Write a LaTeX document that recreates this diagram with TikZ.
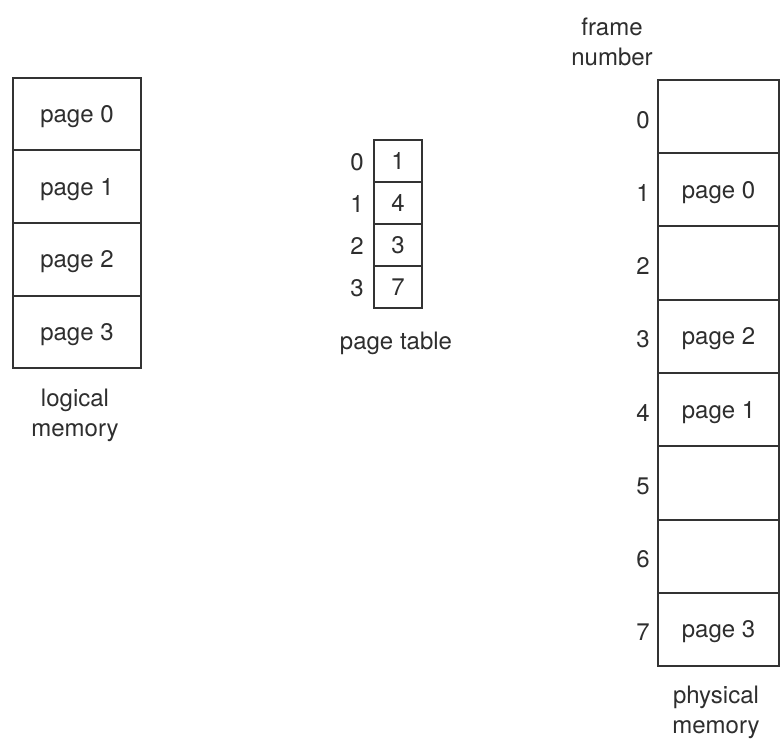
\documentclass[tikz,border=0pt]{standalone}
\usepackage{fontspec}
\setmainfont{TeX Gyre Heros}
\begin{document}
\begin{tikzpicture}[x=1pt,y=-1pt,
  every node/.style={font=\fontsize{24}{30}\selectfont, text=black!82},
  cell/.style={draw=black!80, line width=2pt, inner sep=0pt, anchor=center,
    text height=17pt, text depth=0pt},
  lcell/.style={cell, minimum width=128pt, minimum height=72.5pt},
  tcell/.style={cell, minimum width=48pt, minimum height=42pt},
  pcell/.style={cell, minimum width=121pt, minimum height=73.25pt},
  idx/.style={inner sep=0pt, anchor=center, text height=17pt, text depth=0pt},
  caption/.style={align=center, inner sep=0pt, anchor=center}]
  % canvas
  \path[use as bounding box, fill=white] (0,0) rectangle (781,743);

  % logical memory
  \foreach \i in {0,...,3}
    \node[lcell] (lp\i) at (77,{78+72.5*(\i+0.5)}) {page \i};
  \node[caption] (lcap) at (75,415) {logical\\memory};

  % page table
  \foreach \i/\f in {0/1,1/4,2/3,3/7} {
    \node[tcell] (pt\i) at (398,{140+42*(\i+0.5)}) {\f};
    \node[idx] (pi\i) at (357,{141+42*(\i+0.5)}) {\i};
  }
  \node[caption] (tcap) at (396,343) {page table};

  % physical memory with frame numbers
  \foreach \i/\t in {0/,1/page 0,2/,3/page 2,4/page 1,5/,6/,7/page 3} {
    \node[pcell] (fm\i) at (718.5,{80+73.25*(\i+0.5)}) {\t};
    \node[idx] (fn\i) at (643,{83+73.25*(\i+0.5)}) {\i};
  }
  \node[caption] (fcap) at (612,42) {frame\\number};
  \node[caption] (pcap) at (716,712) {physical\\memory};
\end{tikzpicture}
\end{document}
